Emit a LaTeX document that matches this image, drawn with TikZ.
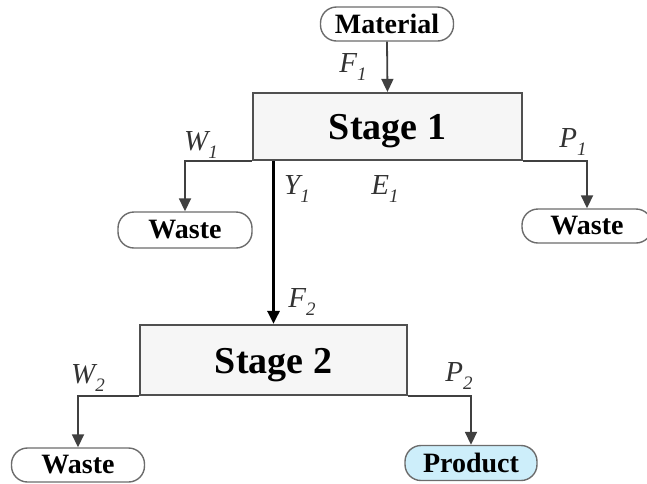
\documentclass[tikz,border=0pt]{standalone}
\usepackage{fontspec}
\setmainfont{Liberation Serif}
\usetikzlibrary{arrows.meta}
\definecolor{linegray}{HTML}{404040}
\definecolor{boxgray}{HTML}{505050}
\definecolor{prodblue}{HTML}{CDEEFA}
\newcommand{\flab}[2]{#1\raisebox{-0.25em}{\fontsize{19}{20}\selectfont #2}}
\tikzset{
  stagebox/.style={draw=boxgray, line width=2.2pt, fill=gray!7, rectangle,
    inner sep=0pt, text height=26pt, text depth=0pt, font=\fontsize{38}{42}\selectfont\bfseries},
  termbox/.style={draw=gray!85!black, line width=1.4pt, fill=white, rounded corners=16pt,
    inner sep=0pt, font=\fontsize{28}{30}\selectfont\bfseries},
  flow/.style={draw=linegray, line width=1.8pt, -{Triangle[length=13pt,width=12pt]}},
  mainflow/.style={draw=black, line width=2.8pt, -{Triangle[length=13pt,width=12pt]}},
  lab/.style={font=\fontsize{29}{30}\selectfont\itshape, text=black!80, inner sep=0pt},
}
\begin{document}
\begin{tikzpicture}[x=1pt, y=-1pt]
\useasboundingbox (0,0) rectangle (647,483);
\node[termbox, minimum width=133pt, minimum height=34pt] (mat) at (387,24) {Material};
\node[stagebox, minimum width=269pt, minimum height=67pt] (s1) at (387.5,126.5) {Stage 1};
\node[termbox, minimum width=134pt, minimum height=36pt] (w1) at (185,230) {Waste};
\node[termbox, minimum width=130pt, minimum height=34pt] (w2) at (587,226) {Waste};
\node[stagebox, minimum width=267pt, minimum height=70pt] (s2) at (273.5,360) {Stage 2};
\node[termbox, minimum width=133pt, minimum height=34pt] (w3) at (78,465) {Waste};
\node[termbox, fill=prodblue, minimum width=132pt, minimum height=35pt] (prod) at (471,463) {Product};

\draw[flow] (mat.south) -- (s1.north);
\draw[flow] (s1.south west) -| (w1.north);
\draw[flow] (s1.south east) -| (w2.north);
\draw[mainflow] (s2.north |- s1.south) -- (s2.north);
\draw[flow] (s2.south west) -| (w3.north);
\draw[flow] (s2.south east) -| (prod.north);

\node[lab] (lf1) at (353,67) {\flab{F}{1}};
\node[lab] (lw1) at (201,145) {\flab{W}{1}};
\node[lab] (lp1) at (573,142) {\flab{P}{1}};
\node[lab] (le1) at (385,189) {\flab{E}{1}};
\node[lab] (ly1) at (297,189) {\flab{Y}{1}};
\node[lab] (lf2) at (302,302) {\flab{F}{2}};
\node[lab] (lw2) at (88,378) {\flab{W}{2}};
\node[lab] (lp2) at (459,376) {\flab{P}{2}};
\end{tikzpicture}
\end{document}
